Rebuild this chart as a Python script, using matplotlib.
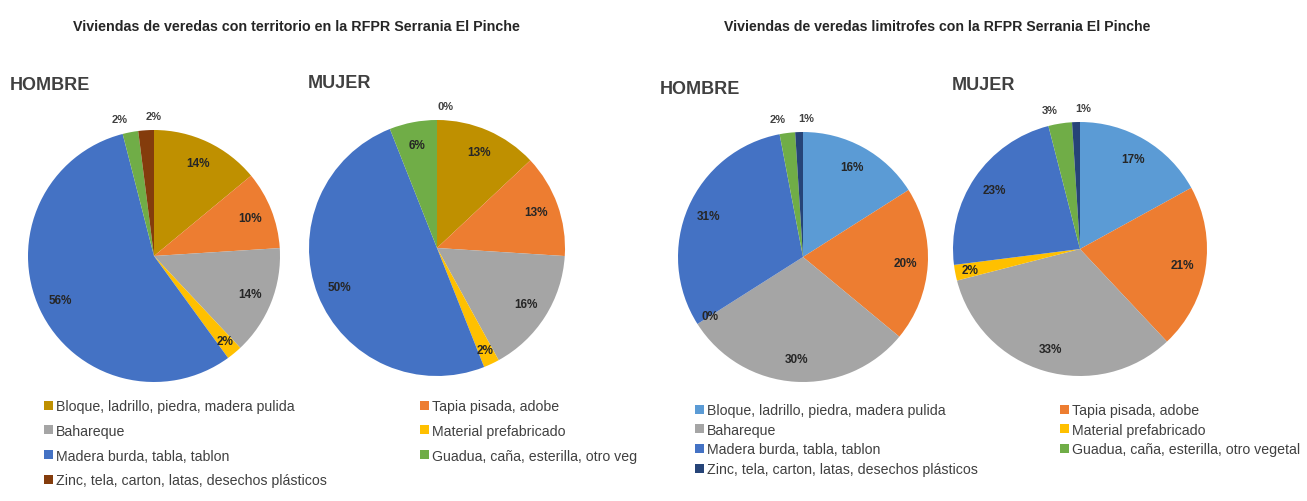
import numpy as np
import matplotlib
matplotlib.use("Agg")
import matplotlib.pyplot as plt

plt.rcParams['font.family'] = ['Liberation Sans', 'DejaVu Sans']

# categorias (orden de las tajadas, sentido horario desde las 12)
cats_terr = ["Bloque, ladrillo, piedra, madera pulida", "Tapia pisada, adobe",
             "Bahareque", "Material prefabricado", "Madera burda, tabla, tablon",
             "Guadua, caña, esterilla, otro veg", "Zinc, tela, carton, latas, desechos plásticos"]
cats_lim = ["Bloque, ladrillo, piedra, madera pulida", "Tapia pisada, adobe",
            "Bahareque", "Material prefabricado", "Madera burda, tabla, tablon",
            "Guadua, caña, esterilla, otro vegetal", "Zinc, tela, carton, latas, desechos plásticos"]

# porcentajes
hombre_terr = [14, 10, 14, 2, 56, 2, 2]
mujer_terr = [13, 13, 16, 2, 50, 6, 0]
hombre_lim = [16, 20, 30, 0, 31, 2, 1]
mujer_lim = [17, 21, 33, 2, 23, 3, 1]

colors_terr = ['#BF9000', '#ED7D31', '#A5A5A5', '#FFC000', '#4472C4', '#70AD47', '#843C0C']
colors_lim = ['#5B9BD5', '#ED7D31', '#A5A5A5', '#FFC000', '#4472C4', '#70AD47', '#264478']

W, H = 1307, 502
fig = plt.figure(figsize=(W / 100, H / 100), dpi=100)


def pie_axes(cx, cy, r):
    return fig.add_axes([(cx - r) / W, (H - cy - r) / H, 2 * r / W, 2 * r / H])


def draw_pie(ax, vals, colors):
    wedges, _ = ax.pie(vals, colors=colors, startangle=90, counterclock=False,
                       wedgeprops=dict(linewidth=0))
    ax.set_xlim(-1, 1)
    ax.set_ylim(-1, 1)
    ax.axis('off')
    total = float(sum(vals))
    cum = 0.0
    for i, v in enumerate(vals):
        mid = cum + v / 2.0
        cum += v
        theta = np.deg2rad(90 - 360 * mid / total)
        if i >= 5 and v < 4:
            # tajadas pequeñas arriba: etiqueta afuera
            d = 1.11
            ha = 'right' if i == 5 else 'left'
            ax.text(d * np.cos(theta), d * np.sin(theta), "%d%%" % v, ha=ha, va='center',
                    fontsize=8, fontweight='bold', color='#404040')
        else:
            d = 0.88 if i == 3 else 0.82
            ax.text(d * np.cos(theta), d * np.sin(theta), "%d%%" % v, ha='center', va='center',
                    fontsize=8.5, fontweight='bold', color='#262626')
    return wedges


w1 = draw_pie(pie_axes(154, 257, 126), hombre_terr, colors_terr)
draw_pie(pie_axes(437, 249, 128), mujer_terr, colors_terr)
w3 = draw_pie(pie_axes(803, 258, 125), hombre_lim, colors_lim)
draw_pie(pie_axes(1080, 250, 127), mujer_lim, colors_lim)

# titulos
fig.text(296 / W, 1 - 27 / H, "Viviendas de veredas con territorio en la RFPR Serrania El Pinche",
         ha='center', va='center', fontsize=10.3, fontweight='bold', color='#262626')
fig.text(937 / W, 1 - 27 / H, "Viviendas de veredas limitrofes con la RFPR Serrania El Pinche",
         ha='center', va='center', fontsize=10.2, fontweight='bold', color='#262626')

sub = dict(fontsize=13, fontweight='bold', color='#404040', va='center', ha='left')
fig.text(10 / W, 1 - 86 / H, "HOMBRE", **sub)
fig.text(308 / W, 1 - 84 / H, "MUJER", **sub)
fig.text(660 / W, 1 - 89 / H, "HOMBRE", **sub)
fig.text(952 / W, 1 - 86 / H, "MUJER", **sub)

# leyendas
leg_kw = dict(frameon=False, fontsize=10.2, handlelength=0.6, handleheight=0.6,
              handletextpad=0.25, borderaxespad=0, borderpad=0, labelcolor='#404040')
col1 = [0, 2, 4, 6]
col2 = [1, 3, 5]

fig.legend([w1[i] for i in col1], [cats_terr[i] for i in col1], loc='upper left',
           bbox_to_anchor=(44 / W, 1 - 400 / H), labelspacing=0.76, **leg_kw)
fig.legend([w1[i] for i in col2], [cats_terr[i] for i in col2], loc='upper left',
           bbox_to_anchor=(420 / W, 1 - 400 / H), labelspacing=0.76, **leg_kw)
fig.legend([w3[i] for i in col1], [cats_lim[i] for i in col1], loc='upper left',
           bbox_to_anchor=(695 / W, 1 - 404 / H), labelspacing=0.4, **leg_kw)
fig.legend([w3[i] for i in col2], [cats_lim[i] for i in col2], loc='upper left',
           bbox_to_anchor=(1060 / W, 1 - 404 / H), labelspacing=0.4, **leg_kw)

fig.savefig("out.png", dpi=100, facecolor='white')
